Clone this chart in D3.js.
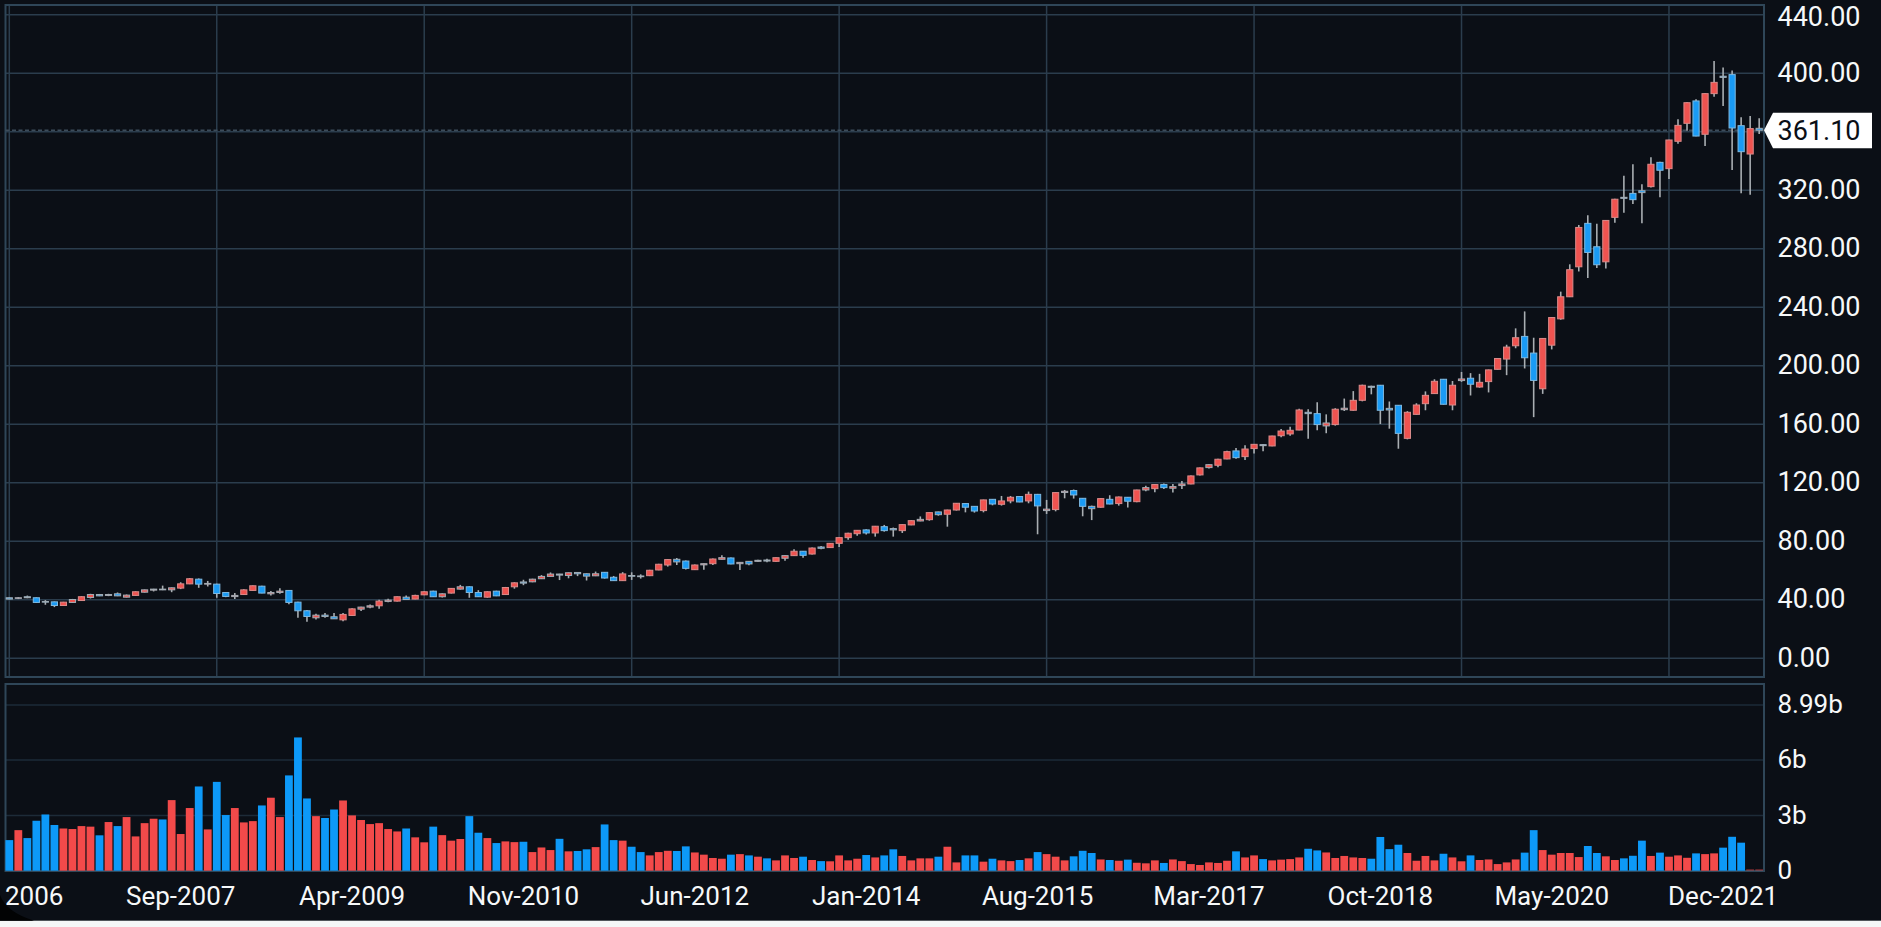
<!DOCTYPE html>
<html><head><meta charset="utf-8">
<script src="https://cdn.jsdelivr.net/npm/d3@7/dist/d3.min.js"></script>
<style>html,body{margin:0;padding:0;background:#0b0f16;overflow:hidden}svg{display:block}text{font-family:Roboto,sans-serif}</style>
</head><body><div id="chart"></div>
<script>
const opens=[41.4,41.0,42.1,41.4,38.8,38.6,36.1,38.2,39.5,41.6,43.6,43,44.1,41.8,43,45.2,46.6,47.3,46.8,48,50.9,54.1,50.7,50.7,45,42.2,43.6,46.4,49.3,44.1,45,46.4,38.4,32.5,27.7,29.5,28.4,26.3,29.3,33.6,35,35.9,38.9,39.1,41.8,40.5,43.4,45.9,42.1,44.6,47.3,48.9,45,41.8,45.9,43.6,48.9,52.2,52.3,54.4,56,57.6,56.6,58.7,57.8,56.4,
58.8,55.4,53.1,56.6,56.3,56.5,60.4,63.8,67.7,66.5,60.6,63.9,64.7,67.7,68.6,64.7,66.3,66.3,67.2,66.3,68.4,70.2,73.2,71.3,76.1,75.7,78.6,82.5,85.2,87.8,85.7,90,88.7,87.3,91.2,93.9,94.8,100.1,98.5,101.4,105.8,103.9,101,108.7,105.3,107.6,110.6,107.6,112.1,101,101.7,113.4,114.7,109.4,103.9,103.3,108.7,105.8,110.1,107.1,115.1,116,118.8,116.3,118.1,119.2,125.4,
130.4,132,136.3,141.8,137.9,143.4,146.1,145.2,152.2,153.4,156.1,168.2,167.3,158.9,159.8,170,169.6,176.4,186,186.7,170.9,173,150.4,166.8,174.1,181,190.8,173.2,189.9,191.5,185.5,189.2,197.6,204.6,213.7,220.1,208.7,184.3,214.1,232.1,247.2,267.7,297.4,281.4,271.1,301.5,315.2,317.9,319.7,322.5,339.1,334.8,353.5,365.8,381.1,358.3,386.1,398,399.1,364.2,344.8,362.4];
const highs=[41.6,41.8,42.9,41.6,39.8,38.8,38.6,40.6,42.4,44.1,44,44.1,45,43.6,45.8,47,47.5,49.7,48.4,52,54.9,54.6,52.9,51,45.2,44.6,47.2,49.8,49.6,46,47.9,46.6,38.6,33,30.4,30.9,31,30.9,34.2,35.2,36.8,40,40.7,42.3,43,43.4,45.8,46.2,44.4,48,50.2,49.2,46.6,45.8,46.2,48.8,52,53.7,54.4,56.9,58.7,57.8,58.7,58.9,58,59.3,
59,56.3,58.9,58.8,57.4,60.5,64.6,67.9,68.6,66.8,64.1,64.9,68.2,70.4,68.9,65.8,66.5,67.3,68.1,69,70.4,74.6,73.4,75.8,76.8,78.9,82.8,85.8,87.7,88.2,90.5,91.2,89.4,91.6,94.4,97,99.8,100.3,101.6,106.2,106,104.1,108.5,108.9,111,111,110.8,114,112.4,108.3,113.5,115.1,115.4,109.6,104.4,109.4,111.5,110.6,110.3,115.3,117.9,119,119.5,119.1,121.2,125,130.4,
132.7,136.4,142,143.8,145.6,146.6,146.3,152.2,156.8,158.4,170.7,170.3,175.1,166.8,171,177.6,182.7,187.1,186.4,186.9,175.6,173.2,169,174.4,182.5,190.8,191,189.6,195.8,195,194.5,197.4,205.3,214.4,225.6,237.2,219.2,219,233.3,250.7,269.4,296.3,303,297.2,299.6,314.2,330,337.8,324.1,342.6,339.6,354.6,368.5,380.2,382.2,386.4,408.4,404,402,369.9,370.8,369.2];
const lows=[40.3,40.5,41.1,37.8,36.6,35,35.8,38,39.3,40.9,42.5,42.5,42.5,41.6,42.8,45,45.7,46.6,45.2,47.3,50.7,48.2,49.1,41.4,41.8,40.5,43.2,46.2,44.4,43,44.1,37,27.7,25,26.6,27.7,26.8,25.4,29,32.4,34.2,33.8,38.4,38.9,40,40.3,43.2,42,41.6,44.3,47,41.4,41.9,41.4,42.5,43.4,47.6,50,52,54.2,55.8,53.5,54.7,56.2,53.2,56.2,
54.5,52.9,52.9,53.6,54.5,56.2,60.2,62.7,63.8,60.8,60.4,60.6,63.8,67.5,64.3,60.4,63.6,66.1,65.7,66.1,66.7,70,68.8,71,74.6,75.4,76.1,81.1,83.8,84.6,83.2,86.6,83.2,85.7,91,93.7,94.1,97.5,90,101,99.8,99.6,99.8,104.6,104.4,106,106.7,106,84.8,98.7,100.5,109.4,109.2,97.1,94.5,103,105.3,104.4,103.1,106.7,114.2,113.5,115.7,113.3,115.7,119,125,
129.7,130.6,136.1,136.5,135.6,140,141.5,145,151.1,152.2,155.9,150.2,155.9,153.9,159.1,169.1,169.3,175.7,180.5,160.2,157,143.3,149.7,166.6,169.6,180.8,173.5,169.6,189,179.7,185,181.8,197.4,193.6,212,198.2,164.9,180.8,211.2,231.5,247,264.5,260,266.8,266.5,297.8,304.7,310.6,297.4,322,315.2,327.8,351.9,360.7,356.9,350.3,384,377.6,333.9,317.9,317,358.5];
const closes=[40.5,41.4,41.4,38.2,38.4,36.1,38.4,40.2,42.1,43.6,42.7,43.6,42.7,43.2,45.5,46.8,47.3,46.8,48.2,50.9,54.4,50.7,51.2,44.3,42.3,43,46.8,49.6,44.6,45,45.9,38.2,32.5,28.6,29.5,28.6,27,30,33.8,35,35.9,39.1,39.8,42.1,40.2,43,45.5,42.1,44.1,47.8,48.9,45,42.1,45.5,42.7,48.4,51.6,51.4,54.1,56,57.6,56.9,58.5,57.8,56.2,57.8,
54.9,53.1,57.7,56.1,55.8,60.2,64.3,67.5,65.9,61.5,63.8,64.7,67.9,68.8,64.5,65.6,64.5,67,66.5,68.8,70.2,73.2,70.4,75.4,75.2,78.6,82.5,85.5,87.5,85.7,90.3,87.3,87.8,91.4,94.1,95,99.6,98.2,101.4,106,103.3,100.7,108.3,105.5,107.6,110.1,106.9,112.1,104.2,102,113.3,114.2,111.7,103.9,102.3,109.2,105.5,110.3,107.4,115.1,116.7,118.8,116.7,117.4,119.2,124.7,130.2,
132.4,136.1,141.3,137.2,143.1,146.3,145.4,152,155.4,155.9,169.8,167.3,159.8,160.9,170.3,171,176.4,186.7,185.3,169.6,169.8,153.8,168.2,173.2,179.8,189.4,173.7,186.7,191,187.4,188.7,197.2,205,212.8,219.2,205.5,190,218.7,233,247.2,265.7,294.6,277.5,269.1,299.4,313.9,314.5,313.6,318.4,337.8,333.7,354.4,364.4,379.9,357.1,386.1,393.8,397.2,362.6,346.4,362.2,361.1];
const volumes=[1.66,2.2,1.77,2.71,3.05,2.48,2.29,2.26,2.42,2.39,1.92,2.64,2.42,2.91,1.86,2.58,2.82,2.78,3.83,1.99,3.4,4.57,2.24,4.82,3.02,3.4,2.62,2.69,3.54,3.96,2.91,5.17,7.23,3.92,2.96,2.86,3.32,3.81,3,2.75,2.53,2.58,2.26,2.13,2.29,1.81,1.54,2.39,1.93,1.63,1.72,2.96,2.06,1.77,1.5,1.59,1.55,1.57,1.01,1.26,1.12,1.73,1.05,1.07,1.16,1.28,2.51,1.66,1.63,1.3,1.01,.83,1.01,1.08,1.07,1.32,.99,.87,.69,.65,.87,.9,.83,.76,.67,.56,.83,.69,.76,.58,.52,.51,.83,.56,.65,.85,.72,.83,1.16,.8,.56,.67,.67,.76,1.3,.45,.83,.83,.49,.65,.56,.52,.58,.67,1.01,.9,.76,.56,.78,1.08,.96,.61,.58,.54,.6,.43,.4,.56,.42,.61,.52,.36,.31,.45,.42,.54,1.05,.72,.83,.63,.56,.6,.63,.72,1.19,1.1,.99,.69,.8,.72,.69,.65,1.83,1.17,1.41,.96,.54,.8,.56,.92,.72,.51,.83,.58,.61,.36,.45,.61,.98,2.2,1.12,.87,.96,.96,.74,1.34,.96,.78,.58,.67,.81,1.63,.8,.98,.76,.83,.7,.94,.9,.94,1.25,1.84,1.52,.08,.08];
const xLabels=["Sep-2007","Apr-2009","Nov-2010","Jun-2012","Jan-2014","Aug-2015","Mar-2017","Oct-2018","May-2020","Dec-2021"];
const xLabelIdx=[19,38,57,76,95,114,133,152,171,190];
const firstLabel="2006";
const xGridIdx=[0,23,46,69,92,115,138,161,184];
const priceTicks=[0,40,80,120,160,200,240,280,320,360,400,440];
const volTicks=[0,3,6,8.99];
const lastPrice=361.10;

const W=1881,H=927;
const UP="#ef5350",DOWN="#1a9bf5",VUP="#f24a4a",VDOWN="#0d99f8",WICK="#a9aeb2",BG="#0b0f16",GRID="#2b3d4d",GRID2="#1d2b38",BORDER="#2f4658",TXT="#f6f8f9";
const svg=d3.select("#chart").append("svg").attr("width",W).attr("height",H);
svg.append("rect").attr("width",W).attr("height",H).attr("fill",BG);

const x=d3.scaleLinear().domain([0,194]).range([9.3,9.3+194*9.02]);
const yP=d3.scaleLinear().domain([0,400]).range([658.3,73.3]);
const yV=d3.scaleLinear().domain([0,8.99]).range([870.7,705]);
const panel={l:5.5,r:1764,pt:5,pb:677,vt:684,vb:871};

// grids
const g=svg.append("g");
g.selectAll(".pg").data(priceTicks).join("line").attr("x1",panel.l).attr("x2",panel.r).attr("y1",d=>yP(d)).attr("y2",d=>yP(d)).attr("stroke",GRID).attr("stroke-width",1.5);
g.selectAll(".xg").data(xGridIdx).join("line").attr("x1",d=>x(d)).attr("x2",d=>x(d)).attr("y1",panel.pt).attr("y2",panel.pb).attr("stroke",GRID).attr("stroke-width",1.5);
g.selectAll(".vg").data(volTicks.slice(1)).join("line").attr("x1",panel.l).attr("x2",panel.r).attr("y1",d=>yV(d)).attr("y2",d=>yV(d)).attr("stroke",GRID2).attr("stroke-width",1.5);

// panel borders
[[panel.pt,panel.pb],[panel.vt,panel.vb]].forEach(([t,b])=>{
 svg.append("rect").attr("x",panel.l).attr("y",t).attr("width",panel.r-panel.l).attr("height",b-t)
  .attr("fill","none").attr("stroke",BORDER).attr("stroke-width",2);
});

// volume bars
const idx=d3.range(volumes.length);
svg.append("g").selectAll("rect").data(idx).join("rect")
 .attr("x",i=>x(i)-3.9).attr("width",7.8)
 .attr("y",i=>yV(volumes[i])).attr("height",i=>yV(0)-yV(volumes[i]))
 .attr("fill",i=>volumes[i]<0.1?VUP:(closes[i]>=opens[i]?VUP:VDOWN))
 .attr("opacity",i=>volumes[i]<0.1?0.45:1);

// last price line
svg.append("line").attr("x1",panel.l).attr("x2",panel.r).attr("y1",yP(lastPrice)).attr("y2",yP(lastPrice))
 .attr("stroke","#3d4c5a").attr("stroke-width",1.5).attr("stroke-dasharray","4 2.5");

// candles
const c=svg.append("g");
c.selectAll("line").data(idx).join("line")
 .attr("x1",i=>x(i)).attr("x2",i=>x(i)).attr("y1",i=>yP(highs[i])).attr("y2",i=>yP(lows[i]))
 .attr("stroke",WICK).attr("stroke-width",1.6);
c.selectAll("rect").data(idx).join("rect")
 .attr("x",i=>x(i)-3.1).attr("width",6.2)
 .attr("y",i=>yP(Math.max(opens[i],closes[i])))
 .attr("height",i=>Math.max(0.6,Math.abs(yP(opens[i])-yP(closes[i]))))
 .attr("fill",i=>closes[i]>=opens[i]?UP:DOWN)
 .attr("stroke",i=>Math.abs(yP(opens[i])-yP(closes[i]))<3?"#a3adb5":(closes[i]>=opens[i]?"#d98b8a":"#7fb9e0"))
 .attr("stroke-width",1);

// axis text
const t=svg.append("g").attr("fill",TXT).attr("font-size",26);
t.selectAll(".pl").data(priceTicks).join("text").attr("x",1777.5).attr("y",d=>Math.max(yP(d)-1,16)).attr("dy","0.355em").attr("font-size",27)
 .text(d=>d3.format(".2f")(d));
t.selectAll(".vl").data(volTicks).join("text").attr("x",1777.5).attr("y",d=>yV(d)-1).attr("dy","0.355em")
 .text(d=>d===0?"0":(d===8.99?"8.99b":d+"b"));
t.selectAll(".xl").data(xLabels).join("text").attr("x",(d,i)=>x(xLabelIdx[i])).attr("y",905).attr("text-anchor","middle").text(d=>d);
t.append("text").attr("x",5).attr("y",905).text(firstLabel);

// last price tag
const ty=yP(lastPrice);
svg.append("path").attr("d",`M1764 ${ty} L1773 ${ty-17.5} H1872 V${ty+18} H1773 Z`).attr("fill","#fff");
svg.append("text").attr("x",1777.5).attr("y",ty).attr("dy","0.355em").attr("font-size",27).attr("fill","#0b0f16").text(d3.format(".2f")(lastPrice));

// photo edges: light strip and rounded corner
svg.append("rect").attr("x",0).attr("y",920.7).attr("width",W).attr("height",H-920.7).attr("fill","#f5f7f7");
svg.append("path").attr("d","M0 895 Q6 912 34 920.7 H0 Z").attr("fill","#020304");
</script></body></html>
